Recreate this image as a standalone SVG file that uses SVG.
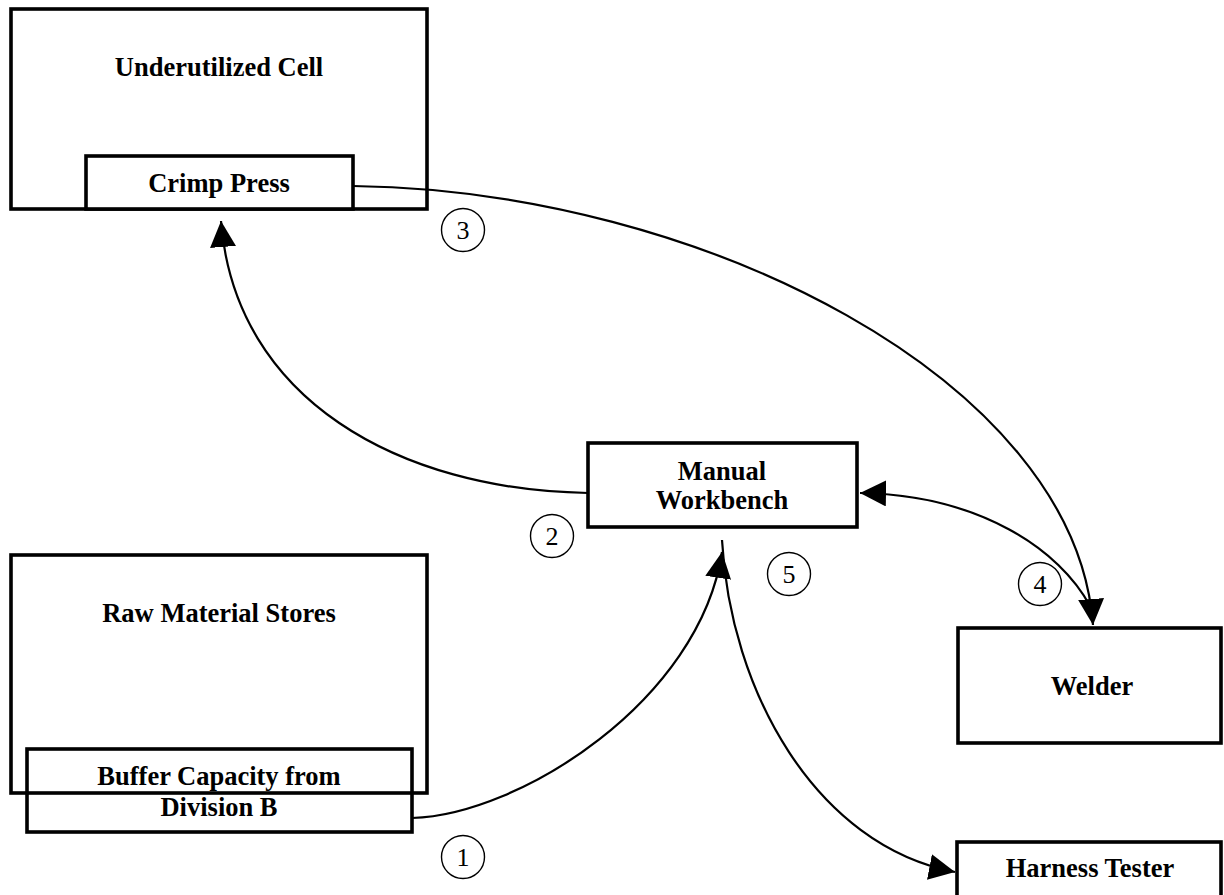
<svg xmlns="http://www.w3.org/2000/svg" width="1224" height="895" viewBox="0 0 1224 895">
  <style>
    .box { fill: #ffffff; stroke: #000000; stroke-width: 3.6; }
    .frame { fill: none; stroke: #000000; stroke-width: 3.6; }
    .lbl { font-family: "Liberation Serif", "Times New Roman", serif; font-weight: bold; font-size: 26.5px; text-anchor: middle; fill: #000000; }
    .edge { fill: none; stroke: #000000; stroke-width: 2.2; }
    .badge circle { fill: #ffffff; stroke: #000000; stroke-width: 1.4; }
    .badge text { font-family: "Liberation Serif", "Times New Roman", serif; font-size: 26px; text-anchor: middle; fill: #000000; }
  </style>
  <defs>
    <marker id="arrow" markerUnits="userSpaceOnUse" markerWidth="26" markerHeight="26" viewBox="0 0 26 26" refX="26" refY="13" orient="auto">
      <path d="M0,0 L26,13 L0,26 z" fill="#000000"/>
    </marker>
  </defs>
  <rect width="1224" height="895" fill="#ffffff"/>

  <!-- process areas -->
  <g id="underutilized-cell">
    <rect class="frame" x="11" y="9" width="416" height="200"/>
    <text class="lbl" x="219" y="76">Underutilized Cell</text>
  </g>
  <g id="crimp-press">
    <rect class="box" x="86" y="156" width="267" height="53"/>
    <text class="lbl" x="219" y="192">Crimp Press</text>
  </g>
  <g id="raw-material-stores">
    <rect class="frame" x="11" y="555" width="416" height="238"/>
    <text class="lbl" x="219" y="622">Raw Material Stores</text>
  </g>
  <g id="buffer-capacity">
    <rect class="frame" x="27" y="749" width="385" height="83"/>
    <text class="lbl" x="219" y="785">Buffer Capacity from</text>
    <text class="lbl" x="219" y="816">Division B</text>
  </g>
  <g id="manual-workbench">
    <rect class="box" x="588" y="443" width="269" height="84"/>
    <text class="lbl" x="722" y="480">Manual</text>
    <text class="lbl" x="722" y="509">Workbench</text>
  </g>
  <g id="welder">
    <rect class="box" x="958" y="628" width="263" height="115"/>
    <text class="lbl" x="1092" y="695">Welder</text>
  </g>
  <g id="harness-tester">
    <rect class="box" x="957" y="842" width="264" height="60"/>
    <text class="lbl" x="1090" y="877">Harness Tester</text>
  </g>

  <!-- material flows -->
  <g id="connectors">
    <path class="edge" d="M412,818 C520,815 700,700 722,552" marker-end="url(#arrow)"/>
    <path class="edge" d="M588,493 C400,490 235,400 221,221" marker-end="url(#arrow)"/>
    <path class="edge" d="M353,186 C700,190 1075,380 1093,625" marker-end="url(#arrow)"/>
    <path class="edge" d="M1090,606 C1060,550 980,495 860,493" marker-end="url(#arrow)"/>
    <path class="edge" d="M722,540 C730,690 815,845 955,872" marker-end="url(#arrow)"/>
  </g>

  <!-- step numbers -->
  <g id="steps">
    <g class="badge"><circle cx="463" cy="857" r="21.5"/><text x="463" y="866">1</text></g>
    <g class="badge"><circle cx="552" cy="536" r="21.5"/><text x="552" y="545">2</text></g>
    <g class="badge"><circle cx="463" cy="230" r="21.5"/><text x="463" y="239">3</text></g>
    <g class="badge"><circle cx="1040" cy="584" r="21.5"/><text x="1040" y="593">4</text></g>
    <g class="badge"><circle cx="789" cy="574" r="21.5"/><text x="789" y="583">5</text></g>
  </g>
</svg>
